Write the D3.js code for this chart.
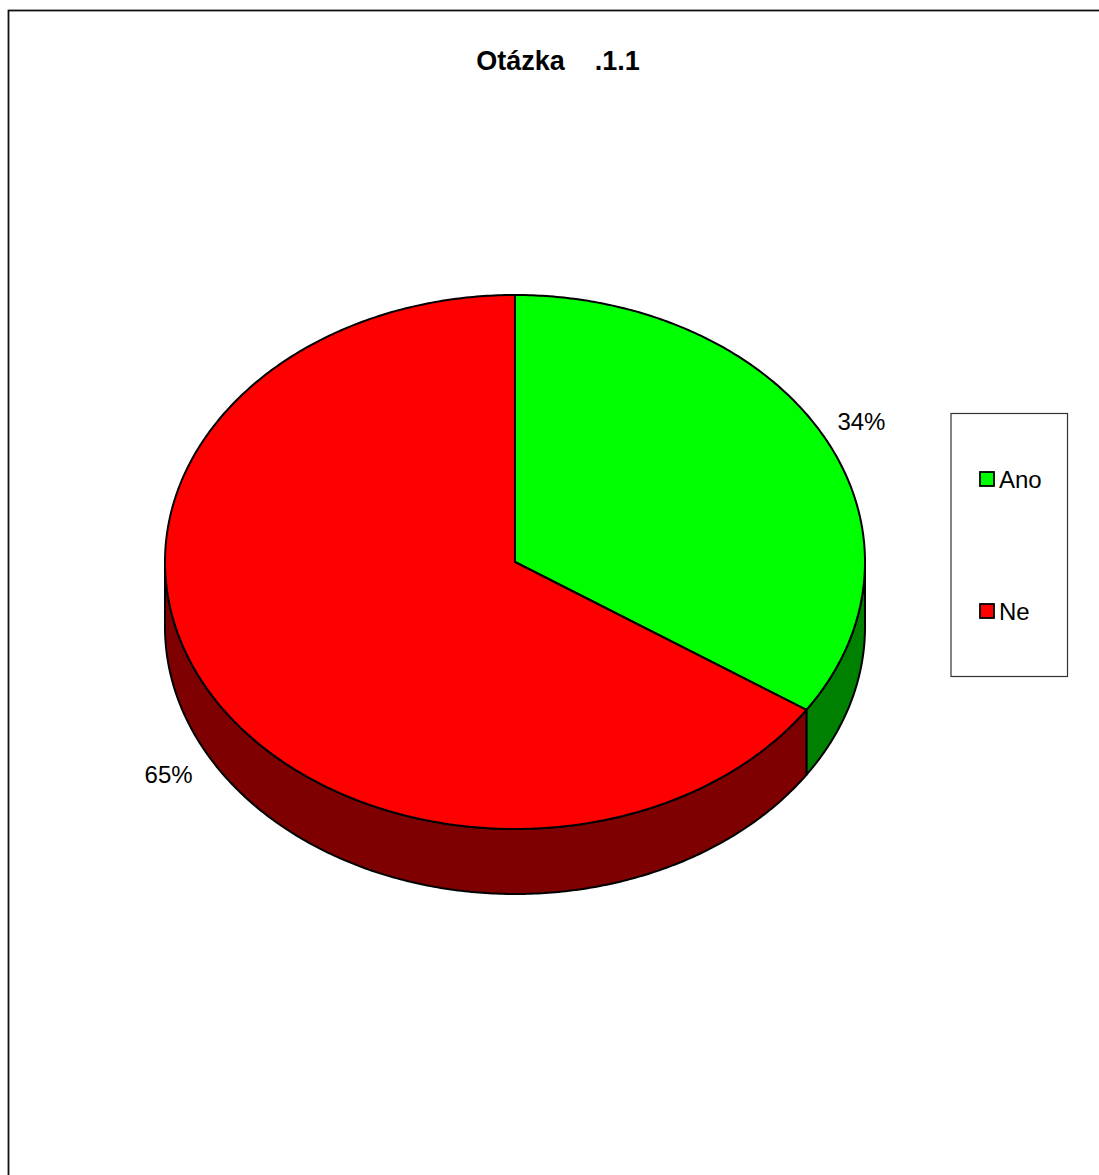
<!DOCTYPE html>
<html>
<head>
<meta charset="utf-8">
<script src="https://cdn.jsdelivr.net/npm/d3@7"></script>
<style>
  html, body { margin: 0; padding: 0; background: #fff; }
  svg { display: block; }
  text { font-family: "Liberation Sans", Arial, sans-serif; }
</style>
</head>
<body>
<svg id="chart" width="1099" height="1175"></svg>
<script>
// Survey answers
const categories = ["Ano", "Ne"];
const values = [34, 65];
const valueLabels = ["34%", "65%"];
const topColors = ["#00ff00", "#ff0000"];
const sideColors = ["#008000", "#7f0000"];
const title = "Otázka\u00a0\u00a0\u00a0\u00a0.1.1";

const svg = d3.select("#chart");
const W = 1099, H = 1175;

// Outer chart frame (runs past the right and bottom edge)
svg.append("rect")
  .attr("x", 8.5).attr("y", 10.5)
  .attr("width", W + 20).attr("height", H + 20)
  .attr("fill", "#fff").attr("stroke", "#111").attr("stroke-width", 1.8);

svg.append("text")
  .attr("x", 558).attr("y", 70)
  .attr("text-anchor", "middle")
  .attr("font-size", 27).attr("font-weight", "bold")
  .text(title);

// Pie geometry: an ellipse seen at a tilt, with a visible depth
const cx = 515, cy = 562, rx = 350, ry = 267, depth = 65;

const pie = d3.pie().sort(null).value(d => d);
const arcs = pie(values);

// angle: 0 at top, clockwise
const px = a => cx + rx * Math.sin(a);
const py = (a, dz = 0) => cy - ry * Math.cos(a) + dz;

function sample(a0, a1, dz) {
  const n = Math.max(2, Math.ceil(Math.abs(a1 - a0) / 0.01));
  return d3.range(n + 1).map(i => {
    const a = a0 + (a1 - a0) * i / n;
    return [px(a), py(a, dz)];
  });
}

const line = d3.line();
const g = svg.append("g");

// Side walls: only the front half (angles between PI/2 and 3PI/2) shows
arcs.forEach((d, i) => {
  const a0 = Math.max(d.startAngle, Math.PI / 2);
  const a1 = Math.min(d.endAngle, 3 * Math.PI / 2);
  if (a1 <= a0) return;
  const pts = sample(a0, a1, 0).concat(sample(a1, a0, depth));
  g.append("path")
    .attr("d", line(pts) + "Z")
    .attr("fill", sideColors[i])
    .attr("stroke", "#000").attr("stroke-width", 2)
    .attr("stroke-linejoin", "round");
});

// Top faces
arcs.forEach((d, i) => {
  const pts = [[cx, cy]].concat(sample(d.startAngle, d.endAngle, 0));
  g.append("path")
    .attr("d", line(pts) + "Z")
    .attr("fill", topColors[i])
    .attr("stroke", "#000").attr("stroke-width", 2)
    .attr("stroke-linejoin", "round");
});

// Value labels placed outside the rim
arcs.forEach((d, i) => {
  const mid = (d.startAngle + d.endAngle) / 2;
  const back = Math.cos(mid) > 0;
  const lx = cx + (rx + 43) * Math.sin(mid);
  const ly = back
    ? cy - (ry + 30) * Math.cos(mid)
    : cy - (ry + 45) * Math.cos(mid) + depth;
  svg.append("text")
    .attr("x", lx).attr("y", ly)
    .attr("text-anchor", "middle")
    .attr("dominant-baseline", "central")
    .attr("font-size", 24)
    .text(valueLabels[i]);
});

// Legend
const lg = svg.append("g");
lg.append("rect")
  .attr("x", 951).attr("y", 413.5).attr("width", 116.5).attr("height", 263)
  .attr("fill", "#fff").attr("stroke", "#333").attr("stroke-width", 1.2);
const legendY = d3.scalePoint().domain(categories).range([479, 611]);
categories.forEach((c, i) => {
  const y = legendY(c);
  lg.append("rect")
    .attr("x", 980).attr("y", y - 7).attr("width", 14).attr("height", 14)
    .attr("fill", topColors[i]).attr("stroke", "#000").attr("stroke-width", 1.8);
  lg.append("text")
    .attr("x", 999).attr("y", y + 9)
    .attr("font-size", 24)
    .text(c);
});
</script>
</body>
</html>
